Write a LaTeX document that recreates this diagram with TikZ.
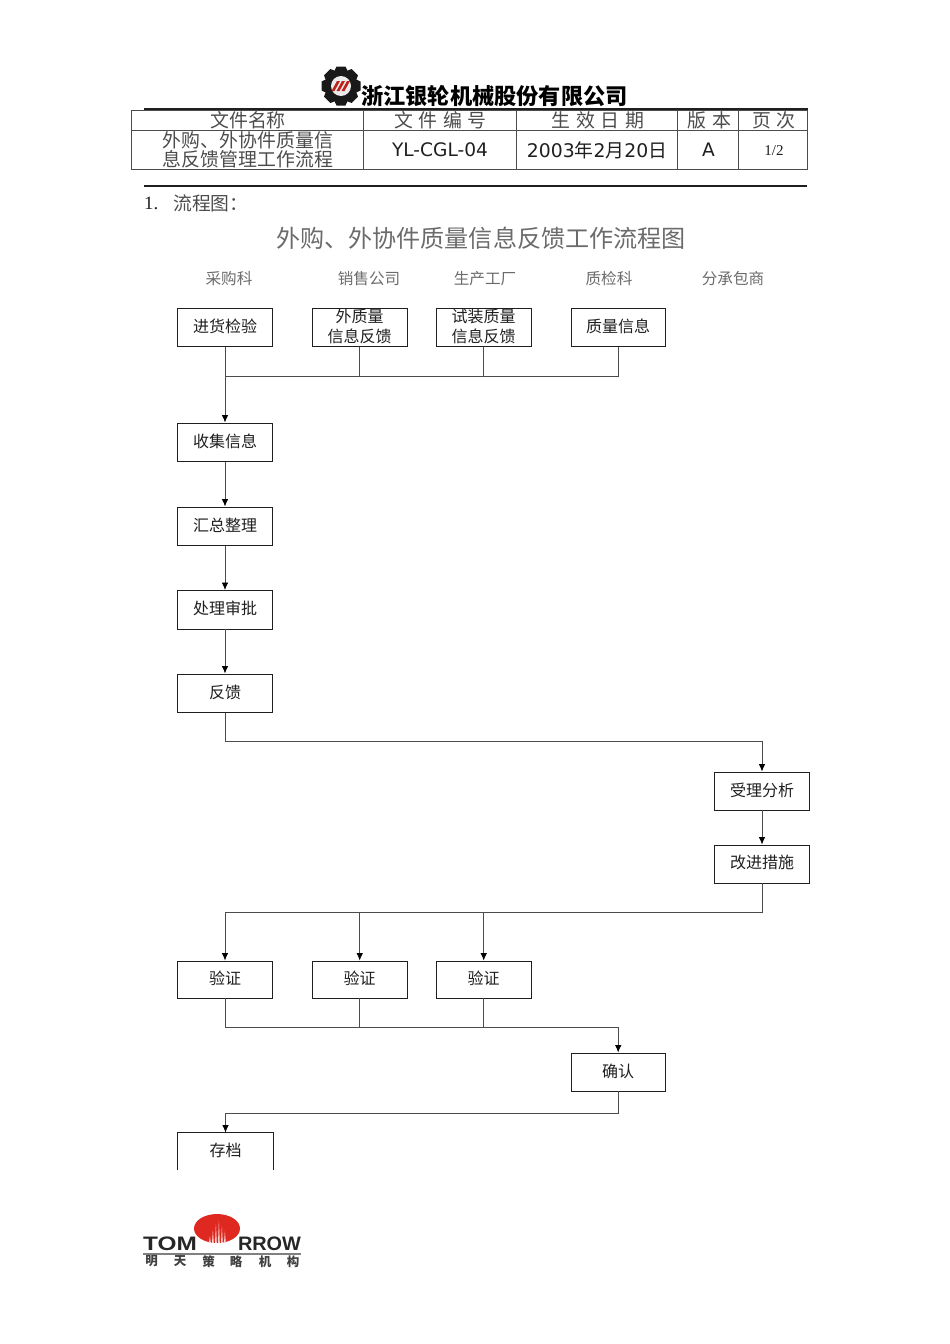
\documentclass[tikz,border=0pt]{standalone}
\usepackage{fontspec}
\setmainfont{Noto Sans CJK SC}
\newfontfamily\dvfont{DejaVu Sans}
\newfontfamily\serfont{Liberation Serif}
\newfontfamily\lsfont{Liberation Sans}
\newcommand{\fsz}[1]{\fontsize{#1}{#1}\selectfont}
\usetikzlibrary{arrows.meta}
\definecolor{ink}{gray}{0.12}
\definecolor{soft}{gray}{0.3}
\definecolor{pale}{gray}{0.42}
\definecolor{logored}{RGB}{222,40,32}
\tikzset{
  flowbox/.style={draw=ink,line width=0.9pt,inner sep=0pt,text=ink,align=center,font=\fontsize{16}{20}\selectfont},
  wA/.style={minimum width=94.5pt},
  wB/.style={minimum width=95.5pt},
  hA/.style={minimum height=38.5pt},
  link/.style={draw=soft,line width=0.8pt},
  flow/.style={link,-{Latex[length=7.5pt,width=6.5pt,black]}},
  txt/.style={inner sep=0pt,text=ink},
  head/.style={txt,text=pale,font=\fsz{15.6}},
  cell/.style={txt,text=soft,font=\fontsize{18.9}{19}\selectfont,align=center},
  rulex/.style={draw=ink,line width=0.8pt},
}
\newcommand{\up}[1]{\raisebox{3.5pt}{#1}}
\newcommand{\gp}{\hspace{5.7pt}}
\begin{document}
\begin{tikzpicture}[x=1pt,y=-1pt]
\useasboundingbox (0,0) rectangle (950,1344);
% company logo
\fill[black!90] (341,86) circle (15.5);
\foreach \a in {0,45,...,315}{
  \fill[black!90,rotate around={\a:(341,86)}] (336.5,66.5) -- (345.5,66.5) -- (348.5,73) -- (333.5,73) -- cycle;
}
\fill[white!85!gray] (341,86) circle (10);
\fill[logored!85!black] (331.5,91) -- (337,81) -- (340,81) -- (334.5,91) -- cycle;
\fill[logored!85!black] (336.5,91) -- (342,81) -- (345,81) -- (339.5,91) -- cycle;
\fill[logored!85!black] (341.5,91) -- (347,81) -- (350,81) -- (344.5,91) -- cycle;
\node[txt,text=black,font=\bfseries\fsz{22.2},anchor=center] (company) at (494.5,96) {浙江银轮机械股份有限公司};
% header table
\draw[rulex,line width=1.6pt] (144,109) -- (807.5,109);
\draw[rulex,draw=soft] (131.5,110) rectangle (807.5,169);
\draw[rulex,draw=soft] (131.5,130) -- (807.5,130);
\foreach \x in {363.5,516.5,677.5,738.5} \draw[rulex,draw=soft] (\x,110) -- (\x,169);
\node[cell] (t1) at (248,120) {文件名称};
\node[cell] (t2) at (440.5,120) {文\gp 件\gp 编\gp 号};
\node[cell] (t3) at (598,120) {生\gp 效\gp 日\gp 期};
\node[cell] (t4) at (709.5,120) {版\gp 本};
\node[cell] (t5) at (774,120) {页\gp 次};
\node[cell] (d1) at (248,149.5) {外购、外协件质量信\\息反馈管理工作流程};
\node[txt,font=\dvfont\fsz{18.6}] (d2) at (440,150) {YL-CGL-04};
\node[txt,font=\fsz{18.8}] (d3) at (597,150) {{\dvfont 2003}年{\dvfont 2}月{\dvfont 20}日};
\node[txt,font=\dvfont\fsz{18.6}] (d4) at (708.5,150) {A};
\node[txt,font=\serfont\fsz{15}] (d5) at (774,150.5) {1/2};
\draw[rulex,line width=1.1pt] (144,186) -- (807,186);
\node[txt,anchor=west,font=\serfont\fsz{18.8}] (sec) at (144,203) {1.};
\node[txt,anchor=west,text=soft,font=\fsz{18.8}] (secb) at (173,203) {流程图：};
\node[txt,text=pale,font=\fsz{24.1}] (title) at (481,238) {外购、外协件质量信息反馈工作流程图};
% column heads
\node[head] (c1) at (229,279) {采购科};
\node[head] (c2) at (369,279) {销售公司};
\node[head] (c3) at (485,279) {生产工厂};
\node[head] (c4) at (609,279) {质检科};
\node[head] (c5) at (733,279) {分承包商};
% boxes
\node[flowbox,wA,hA] (a1) at (225,327.2) {\up{进货检验}};
\node[flowbox,wB,hA] (a2) at (359.7,327.2) {\raisebox{3.5pt}{\shortstack{外质量\\[2pt]信息反馈}}};
\node[flowbox,wB,hA] (a3) at (483.7,327.2) {\raisebox{3.5pt}{\shortstack{试装质量\\[2pt]信息反馈}}};
\node[flowbox,wA,hA] (a4) at (618.2,327.2) {\up{质量信息}};
\node[flowbox,wA,hA] (b1) at (225,442.2) {\up{收集信息}};
\node[flowbox,wA,hA] (b2) at (225,526.2) {\up{汇总整理}};
\node[flowbox,wA,hA] (b3) at (225,609.7) {\up{处理审批}};
\node[flowbox,wA,hA] (b4) at (225,693.2) {\up{反馈}};
\node[flowbox,wA,minimum height=38pt] (e1) at (762,791) {\up{受理分析}};
\node[flowbox,wA,minimum height=38pt] (e2) at (762,864) {\up{改进措施}};
\node[flowbox,wA,minimum height=37pt] (v1) at (225,979.5) {\up{验证}};
\node[flowbox,wB,minimum height=37pt] (v2) at (359.7,979.5) {\up{验证}};
\node[flowbox,wB,minimum height=37pt] (v3) at (483.7,979.5) {\up{验证}};
\node[flowbox,wA,minimum height=38pt] (q) at (618.2,1072) {\up{确认}};
\node[flowbox,draw=none,wB,minimum height=37pt] (z) at (225.5,1151.5) {\up{存档}};
\draw[draw=ink,line width=0.9pt] (z.south west) -- (z.north west) -- (z.north east) -- (z.south east);
% junctions
\coordinate (j1) at (225,376);
\coordinate (j2) at (225,741);
\coordinate (j3) at (762,912);
\coordinate (j4) at (225,912);
\coordinate (j5) at (225,1027);
\coordinate (j6) at (618.2,1027);
\coordinate (j7) at (618.2,1113);
% connectors
\draw[flow] (a1.south) -- (b1.north);
\draw[link] (a2.south) |- (j1);
\draw[link] (a3.south) |- (j1);
\draw[link] (a4.south) |- (j1);
\draw[flow] (b1.south) -- (b2.north);
\draw[flow] (b2.south) -- (b3.north);
\draw[flow] (b3.south) -- (b4.north);
\draw[flow] (b4.south) -- (j2) -| (e1.north);
\draw[flow] (e1.south) -- (e2.north);
\draw[link] (e2.south) -- (j3) -- (j4);
\draw[flow] (j4) -- (v1.north);
\draw[flow] (v2.north |- j4) -- (v2.north);
\draw[flow] (v3.north |- j4) -- (v3.north);
\draw[link] (v1.south) -- (j5);
\draw[link] (v2.south) |- (j5);
\draw[link] (v3.south) |- (j5);
\draw[link] (j5) -- (j6);
\draw[flow] (j6) -- (q.north);
\draw[flow] (q.south) -- (j7) -| (z.north);
% footer logo
\fill[logored] (217,1228.5) ellipse (23 and 14.5);
\foreach \x/\t in {209/1236,212/1230,215/1224,218/1220,221/1226,224/1231}{
  \fill[white!80!logored] (\x,1243) -- (\x+0.9,\t) -- (\x+1.8,1243) -- cycle;
}
\node[txt,text=black!85,font=\lsfont\bfseries\fsz{19.5},xscale=1.25] (tom) at (170,1244) {TOM};
\node[txt,text=black!85,font=\lsfont\bfseries\fsz{19.5},xscale=1.02] (row) at (269.5,1244) {RROW};
\draw[draw=gray,line width=1.6pt] (143,1254) -- (301,1254);
\foreach \n/\x/\c in {m1/151.5/明,m2/180/天,m3/208.5/策,m4/236/略,m5/265/机,m6/293/构}{
  \node[txt,text=black!75,font=\bfseries\fsz{12.5}] (\n) at (\x,1261.5) {\c};
}
\end{tikzpicture}
\end{document}
